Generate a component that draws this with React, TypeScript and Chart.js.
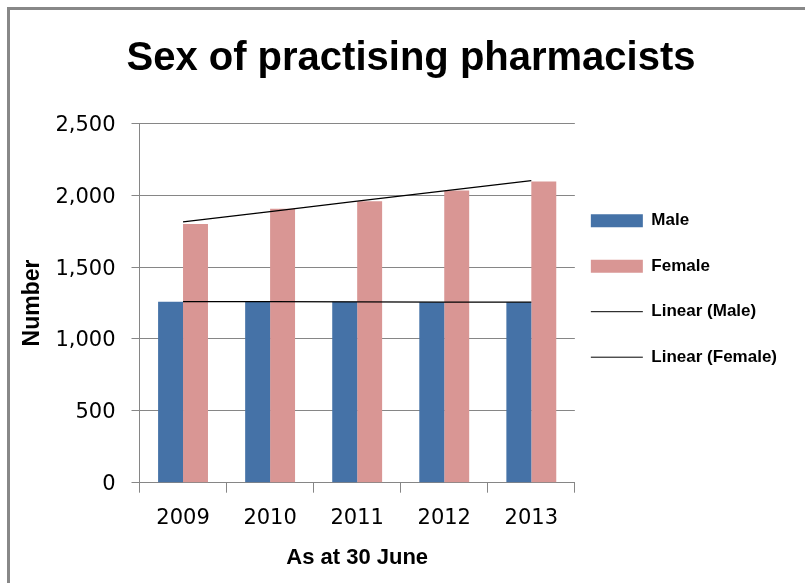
import React, { useEffect, useRef } from "react";
import { Chart, registerables } from "chart.js";

Chart.register(...registerables);

const TITLE = "Sex of practising pharmacists";
const X_TITLE = "As at 30 June";
const Y_TITLE = "Number";
const YEARS = ["2009", "2010", "2011", "2012", "2013"];
const MALE = [1258, 1262, 1258, 1256, 1255];
const FEMALE = [1800, 1905, 1958, 2032, 2095];
const SERIES_LABELS = ["Male", "Female", "Linear (Male)", "Linear (Female)"];
const Y_MIN = 0;
const Y_MAX = 2500;
const Y_STEP = 500;

const MALE_COLOR = "#4572A7";
const FEMALE_COLOR = "#D99694";
const GRID = "#868686";

// least-squares linear trendline over the category index (as Excel's "Linear" trendline)
function linearTrend(values: number[]): number[] {
  const n = values.length;
  const xs = values.map((_, i) => i);
  const mx = xs.reduce((a, b) => a + b, 0) / n;
  const my = values.reduce((a, b) => a + b, 0) / n;
  let num = 0;
  let den = 0;
  for (let i = 0; i < n; i++) {
    num += (xs[i] - mx) * (values[i] - my);
    den += (xs[i] - mx) * (xs[i] - mx);
  }
  const slope = num / den;
  const icpt = my - slope * mx;
  return xs.map((x) => icpt + slope * x);
}

export default function App() {
  const ref = useRef<HTMLCanvasElement | null>(null);

  useEffect(() => {
    if (!ref.current) return;
    const sans = "'Liberation Sans', Arial, sans-serif";
    const tickFont = "'DejaVu Sans', sans-serif";
    const chart = new Chart(ref.current, {
      type: "bar",
      data: {
        labels: YEARS,
        datasets: [
          {
            type: "bar",
            label: SERIES_LABELS[0],
            data: MALE,
            backgroundColor: MALE_COLOR,
            borderWidth: 0,
            order: 1,
            categoryPercentage: 0.573,
            barPercentage: 1,
          },
          {
            type: "bar",
            label: SERIES_LABELS[1],
            data: FEMALE,
            backgroundColor: FEMALE_COLOR,
            borderWidth: 0,
            order: 1,
            categoryPercentage: 0.573,
            barPercentage: 1,
          },
          {
            type: "line",
            label: SERIES_LABELS[2],
            data: linearTrend(MALE),
            borderColor: "#000",
            borderWidth: 1.3,
            pointRadius: 0,
            fill: false,
            order: 0,
          },
          {
            type: "line",
            label: SERIES_LABELS[3],
            data: linearTrend(FEMALE),
            borderColor: "#000",
            borderWidth: 1.3,
            pointRadius: 0,
            fill: false,
            order: 0,
          },
        ] as any,
      },
      options: {
        responsive: false,
        animation: false,
        events: [],
        layout: { padding: { left: 35, right: 18, top: 0, bottom: 0 } },
        plugins: {
          tooltip: { enabled: false },
          title: {
            display: true,
            text: TITLE,
            color: "#000",
            font: { family: sans, size: 40, weight: "bold" },
            padding: { top: 35.4, bottom: 39.9 },
          },
          legend: {
            position: "right",
            fullSize: false,
            align: "start",
            maxWidth: 400,
            title: {
              display: true,
              text: "",
              font: { size: 12 },
              padding: { top: 58.5, bottom: 0 },
            },
            labels: {
              usePointStyle: true,
              pointStyleWidth: 52,
              boxHeight: 13,
              padding: 16,
              color: "#000",
              font: { family: sans, size: 17, weight: "bold", lineHeight: 29.5 / 17 },
              generateLabels: (c: any) =>
                c.data.datasets.map((ds: any, i: number) => {
                  const isBar = i < 2;
                  return {
                    text: [ds.label],
                    fillStyle: isBar ? ds.backgroundColor : "rgba(0,0,0,0)",
                    strokeStyle: isBar ? ds.backgroundColor : "#000",
                    lineWidth: isBar ? 0 : 1,
                    pointStyle: isBar ? "rect" : "line",
                    hidden: false,
                    datasetIndex: i,
                    fontColor: "#000",
                  };
                }),
            },
          },
        },
        scales: {
          x: {
            offset: true,
            grid: {
              display: true,
              drawOnChartArea: false,
              drawTicks: true,
              offset: true,
              tickLength: 10,
              color: GRID,
            },
            border: { display: true, color: GRID, width: 1 },
            ticks: {
              color: "#000",
              font: { family: tickFont, size: 21 },
              padding: 13,
              maxRotation: 0,
            },
            title: {
              display: true,
              text: X_TITLE,
              color: "#000",
              font: { family: sans, size: 22, weight: "bold" },
              padding: { top: 0, bottom: 12 },
            },
            afterFit: (scale: any) => {
              scale.height = 100.3;
            },
          },
          y: {
            min: Y_MIN,
            max: Y_MAX,
            ticks: {
              stepSize: Y_STEP,
              color: "#000",
              font: { family: tickFont, size: 21 },
              padding: 16,
              labelOffset: 2,
              callback: (v: any) => Number(v).toLocaleString("en-US"),
            },
            grid: {
              color: GRID,
              lineWidth: 1,
              tickLength: 8,
              drawTicks: true,
            },
            border: { display: true, color: GRID, width: 1 },
            title: {
              display: true,
              text: Y_TITLE,
              color: "#000",
              font: { family: sans, size: 23, weight: "bold" },
              padding: { top: -15.8, bottom: 0 },
            },
            afterFit: (scale: any) => {
              scale.width = 104.5;
            },
          },
        },
      } as any,
    });
    return () => chart.destroy();
  }, []);

  return (
    <div
      style={{
        position: "absolute",
        left: 0,
        top: 0,
        width: 805,
        height: 583,
        overflow: "hidden",
        background: "#fff",
      }}
    >
      <canvas ref={ref} width={805} height={583} style={{ position: "absolute", left: 0, top: 0 }} />
      <div
        style={{
          position: "absolute",
          left: 7,
          top: 7,
          width: 1000,
          height: 1000,
          borderLeft: "3px solid #888",
          borderTop: "3px solid #888",
          pointerEvents: "none",
        }}
      />
    </div>
  );
}
